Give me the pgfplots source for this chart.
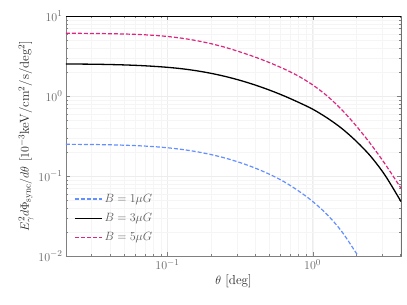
\documentclass[border=0pt]{standalone}
\usepackage{pgfplots}
\pgfplotsset{compat=1.18}
\definecolor{cblue}{HTML}{648FFF}
\definecolor{cmag}{HTML}{DC267F}
\begin{document}
\begin{tikzpicture}
\begin{axis}[
  scale only axis,
  width=335pt, height=240pt,
  xmode=log, ymode=log,
  xmin=0.02, xmax=4.06,
  ymin=0.01, ymax=10,
  font=\fontsize{13}{15}\selectfont,
  tick label style={color=black!60},
  label style={color=black!85},
  axis line style={black!50},
  major tick style={black!50},
  minor tick style={black!50},
  major tick length=4pt,
  minor tick length=2pt,
  grid=both,
  major grid style={black!7, line width=0.4pt},
  minor grid style={black!4, line width=0.3pt},
  xlabel={$\theta$ [deg]},
  ylabel={$E_\gamma^2 d\Phi_{\rm sync}/d\theta$ [$10^{-3}$keV/cm$^2$/s/deg$^2$]},
  xlabel style={yshift=2pt},
  ylabel style={yshift=-2pt},
  legend style={at={(rel axis cs:0.015,0.04)}, anchor=south west, draw=none, fill=none,
    font=\fontsize{13}{15}\selectfont, text=black!65, row sep=5.5pt},
  legend cell align=left,
  legend image code/.code={\draw[#1] (0pt,0pt) -- (27pt,0pt);},
]
\addplot[cblue, line width=1.2pt, dash pattern=on 4pt off 2pt, smooth] coordinates {
(0.02,0.2489) (0.0251,0.2483) (0.0316,0.2472) (0.0398,0.2455) (0.0501,0.2427)
(0.0631,0.2388) (0.0794,0.2333) (0.1,0.2254) (0.1259,0.2148) (0.1585,0.2014)
(0.1995,0.1854) (0.2512,0.1671) (0.3162,0.1472) (0.3981,0.1265) (0.5012,0.1057)
(0.631,0.0855) (0.7943,0.0656) (1.0,0.0481) (1.259,0.0329) (1.585,0.0203)
(1.995,0.01089) (2.05,0.0100)
};
\addlegendentry{$B=1\mu G$}
\addplot[black, line width=1.3pt, smooth] coordinates {
(0.02,2.512) (0.0251,2.506) (0.0316,2.495) (0.0398,2.475) (0.0501,2.447)
(0.0631,2.408) (0.0794,2.353) (0.1,2.283) (0.1259,2.190) (0.1585,2.068)
(0.1995,1.921) (0.2512,1.752) (0.3162,1.569) (0.3981,1.379) (0.5012,1.190)
(0.631,1.008) (0.7943,0.838) (1.0,0.685) (1.259,0.5314) (1.585,0.394)
(1.995,0.2726) (2.512,0.176) (3.162,0.1013) (4.06,0.0479)
};
\addlegendentry{$B=3\mu G$}
\addplot[cmag, line width=1.2pt, dash pattern=on 4pt off 2pt, smooth] coordinates {
(0.02,6.08) (0.0251,6.07) (0.0316,6.046) (0.0398,6.01) (0.0501,5.957)
(0.0631,5.875) (0.0794,5.741) (0.1,5.546) (0.1259,5.272) (0.1585,4.920)
(0.1995,4.508) (0.2512,4.046) (0.3162,3.556) (0.3981,3.083) (0.5012,2.624)
(0.631,2.193) (0.7943,1.782) (1.0,1.377) (1.259,1.002) (1.585,0.6745)
(1.995,0.4236) (2.512,0.2506) (3.162,0.1403) (4.06,0.0703)
};
\addlegendentry{$B=5\mu G$}
\draw[black, line width=0.6pt] (rel axis cs:0,1) -- (rel axis cs:1,1) -- (rel axis cs:1,0);
\coordinate (bl) at (rel axis cs:0,0);
\coordinate (tr) at (rel axis cs:1,1);
\end{axis}
\pgfresetboundingbox
\path ([shift={(-66pt,-49pt)}]bl) rectangle ([shift={(6pt,16pt)}]tr);
\end{tikzpicture}
\end{document}
